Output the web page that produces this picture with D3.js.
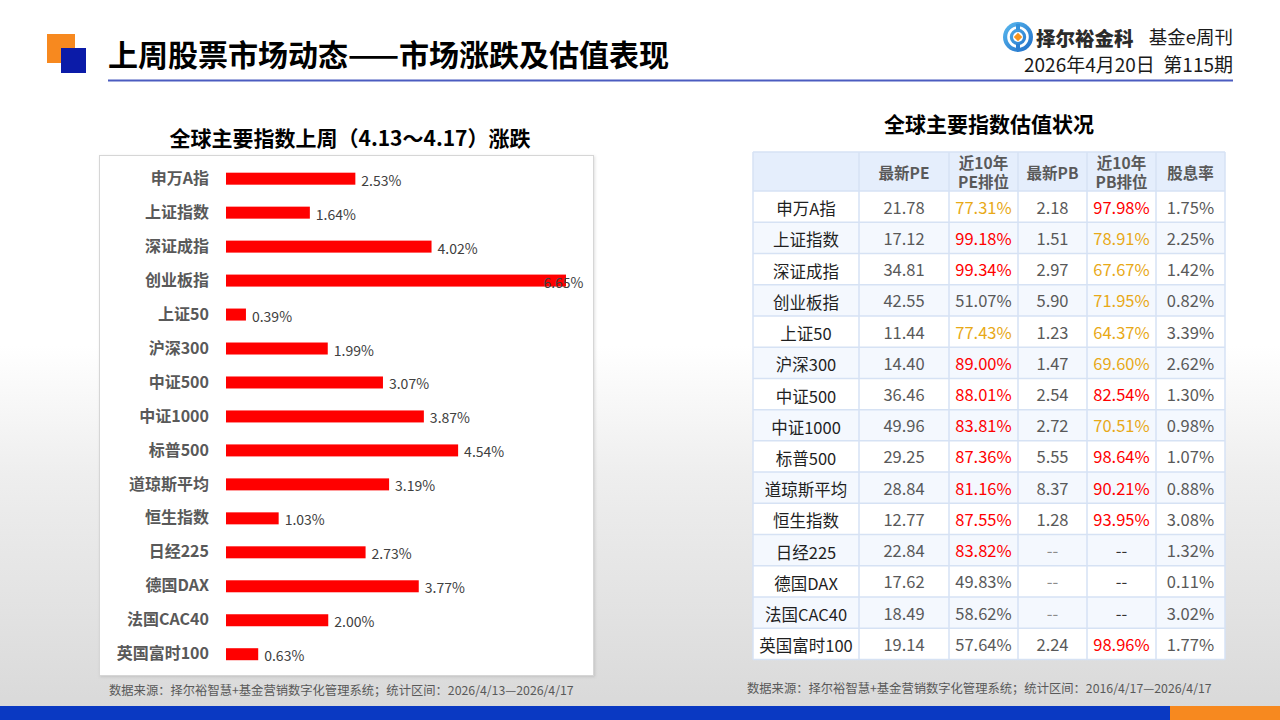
<!DOCTYPE html>
<html>
<head>
<meta charset="utf-8">
<script src="https://cdn.jsdelivr.net/npm/d3@7"></script>
<style>
html, body { margin: 0; padding: 0; background: #fff; }
svg { display: block; font-family: "Microsoft YaHei", "Noto Sans CJK SC", "Noto Sans", sans-serif; }
</style>
</head>
<body>
<svg id="chart" width="1280" height="720"></svg>
<script>
// ---- data ----
const indexNames = ["申万A指", "上证指数", "深证成指", "创业板指", "上证50", "沪深300", "中证500", "中证1000",
    "标普500", "道琼斯平均", "恒生指数", "日经225", "德国DAX", "法国CAC40", "英国富时100"];
const weeklyChange = [2.53, 1.64, 4.02, 6.65, 0.39, 1.99, 3.07, 3.87, 4.54, 3.19, 1.03, 2.73, 3.77, 2.00, 0.63];

const peLatest = [21.78, 17.12, 34.81, 42.55, 11.44, 14.40, 36.46, 49.96, 29.25, 28.84, 12.77, 22.84, 17.62, 18.49, 19.14];
const peRank10y = [77.31, 99.18, 99.34, 51.07, 77.43, 89.00, 88.01, 83.81, 87.36, 81.16, 87.55, 83.82, 49.83, 58.62, 57.64];
const pbLatest = [2.18, 1.51, 2.97, 5.90, 1.23, 1.47, 2.54, 2.72, 5.55, 8.37, 1.28, null, null, null, 2.24];
const pbRank10y = [97.98, 78.91, 67.67, 71.95, 64.37, 69.60, 82.54, 70.51, 98.64, 90.21, 93.95, null, null, null, 98.96];
const dividendYield = [1.75, 2.25, 1.42, 0.82, 3.39, 2.62, 1.30, 0.98, 1.07, 0.88, 3.08, 1.32, 0.11, 3.02, 1.77];

const tableHeaders = ["", "最新PE", "近10年\nPE排位", "最新PB", "近10年\nPB排位", "股息率"];

const pageTitle = "上周股票市场动态——市场涨跌及估值表现";
const barTitle = "全球主要指数上周（4.13～4.17）涨跌";
const tableTitle = "全球主要指数估值状况";
const barSource = "数据来源：择尔裕智慧+基金营销数字化管理系统；统计区间：2026/4/13—2026/4/17";
const tableSource = "数据来源：择尔裕智慧+基金营销数字化管理系统；统计区间：2016/4/17—2026/4/17";

const svg = d3.select("#chart");
const defs = svg.append("defs");

// background: white top fading into a pale grey city haze
let bg = defs.append("linearGradient").attr("id", "bgGrad")
    .attr("x1", 0).attr("y1", 0).attr("x2", 0).attr("y2", 1);
bg.append("stop").attr("offset", "0%").attr("stop-color", "#ffffff");
bg.append("stop").attr("offset", "48%").attr("stop-color", "#ffffff");
bg.append("stop").attr("offset", "66%").attr("stop-color", "#eeeeee");
bg.append("stop").attr("offset", "85%").attr("stop-color", "#e2e2e2");
bg.append("stop").attr("offset", "100%").attr("stop-color", "#d8d8d8");
svg.append("rect").attr("width", 1280).attr("height", 720).attr("fill", "url(#bgGrad)");

let shadow = defs.append("filter").attr("id", "boxShadow")
    .attr("x", "-5%").attr("y", "-5%").attr("width", "110%").attr("height", "110%");
shadow.append("feDropShadow").attr("dx", 1).attr("dy", 1).attr("stdDeviation", 1.5)
    .attr("flood-color", "#000").attr("flood-opacity", 0.12);

// ---- header ----
svg.append("rect").attr("x", 47).attr("y", 34).attr("width", 28).attr("height", 29).attr("fill", "#F7891F");
svg.append("rect").attr("x", 61).attr("y", 48).attr("width", 25).attr("height", 25).attr("fill", "#0B1BA8");

svg.append("text")
    .attr("x", 108).attr("y", 53)
    .attr("dominant-baseline", "central")
    .style("font-size", "30px").style("font-weight", "bold").attr("fill", "#000")
    .text(pageTitle);

svg.append("line")
    .attr("x1", 108).attr("x2", 1233).attr("y1", 80.5).attr("y2", 80.5)
    .attr("stroke", "#4B5CC0").attr("stroke-width", 2);

// logo
let lg = defs.append("linearGradient").attr("id", "logoGrad")
    .attr("x1", 0).attr("y1", 0).attr("x2", 1).attr("y2", 1);
lg.append("stop").attr("offset", "0%").attr("stop-color", "#5BBBF0");
lg.append("stop").attr("offset", "100%").attr("stop-color", "#1D6BC6");
let logo = svg.append("g").attr("transform", "translate(1018,37)");
logo.append("circle").attr("r", 15).attr("fill", "url(#logoGrad)");
logo.append("circle").attr("r", 9.5).attr("fill", "none").attr("stroke", "#fff").attr("stroke-width", 2.6);
logo.append("rect").attr("x", -2).attr("y", -13).attr("width", 4).attr("height", 6).attr("fill", "#3592dc");
logo.append("rect").attr("x", -2).attr("y", 7).attr("width", 4).attr("height", 6).attr("fill", "#2a7fd2");
logo.append("circle").attr("r", 5).attr("fill", "#fff");
logo.append("rect").attr("x", -3).attr("y", -3).attr("width", 6).attr("height", 6)
    .attr("transform", "rotate(45)").attr("fill", "#F7941D");

svg.append("text")
    .attr("x", 1036).attr("y", 37).attr("dominant-baseline", "central")
    .style("font-size", "19.5px").style("font-weight", "900").attr("fill", "#2b2b2b")
    .text("择尔裕金科");
svg.append("text")
    .attr("x", 1233).attr("y", 36).attr("text-anchor", "end").attr("dominant-baseline", "central")
    .style("font-size", "18.5px").attr("fill", "#1a1a1a")
    .text("基金e周刊");
svg.append("text")
    .attr("x", 1233).attr("y", 63).attr("text-anchor", "end").attr("dominant-baseline", "central")
    .style("font-size", "19px").attr("fill", "#1a1a1a")
    .attr("xml:space", "preserve")
    .text("2026年4月20日  第115期");

// ---- left: bar chart ----
svg.append("text")
    .attr("x", 350).attr("y", 137).attr("text-anchor", "middle").attr("dominant-baseline", "central")
    .style("font-size", "21px").style("font-weight", "bold").attr("fill", "#000")
    .text(barTitle);

const box = {x: 99.5, y: 155.5, w: 494, h: 520};
svg.append("rect")
    .attr("x", box.x).attr("y", box.y).attr("width", box.w).attr("height", box.h)
    .attr("fill", "#fff").attr("stroke", "#d6d6d6").attr("filter", "url(#boxShadow)");

const x = d3.scaleLinear().domain([0, d3.max(weeklyChange)]).range([226, 566]);
const y = d3.scaleBand().domain(indexNames).range([161.7, 671.2]);
const barH = 12;

let bars = svg.append("g");
bars.selectAll("rect")
    .data(indexNames)
    .join("rect")
    .attr("x", x(0))
    .attr("y", (d) => y(d) + y.bandwidth() / 2 - barH / 2)
    .attr("width", (d, i) => x(weeklyChange[i]) - x(0))
    .attr("height", barH)
    .attr("fill", "#FF0000");

const labelRight = box.x + box.w - 10;
bars.selectAll("text")
    .data(indexNames)
    .join("text")
    .attr("x", (d, i) => x(weeklyChange[i]) + 6)
    .attr("y", (d) => y(d) + y.bandwidth() / 2 + 1)
    .attr("dominant-baseline", "central")
    .style("font-size", "14px")
    .attr("fill", "#404040")
    .text((d, i) => weeklyChange[i].toFixed(2) + "%")
    .each(function () {
        // keep labels inside the frame, the way the long bar's label sits on its end
        let self = d3.select(this),
            w = self.node().getComputedTextLength(),
            lx = +self.attr("x");
        if (lx + w > labelRight) self.attr("x", labelRight - w);
    });

let yAxis = svg.append("g")
    .attr("transform", "translate(" + x(0) + ",0)")
    .call(d3.axisLeft(y).tickSize(0).tickPadding(17));
yAxis.select(".domain").remove();
yAxis.selectAll("text")
    .style("font-family", "\"Microsoft YaHei\", \"Noto Sans CJK SC\", sans-serif")
    .style("font-size", "16px").style("font-weight", "bold").attr("fill", "#595959");

svg.append("text")
    .attr("x", 109).attr("y", 690).attr("dominant-baseline", "central")
    .style("font-size", "12.3px").attr("fill", "#595959")
    .text(barSource);

// ---- right: valuation table ----
svg.append("text")
    .attr("x", 989).attr("y", 123).attr("text-anchor", "middle").attr("dominant-baseline", "central")
    .style("font-size", "21px").style("font-weight", "bold").attr("fill", "#000")
    .text(tableTitle);

const colEdges = [753, 859, 949, 1018, 1087, 1156, 1225];
const headTop = 152, headBottom = 191, tableBottom = 659.5;
const rowY = d3.scaleBand().domain(indexNames).range([headBottom, tableBottom]);
const rankColor = d3.scaleThreshold().domain([60, 80]).range(["#595959", "#E8A917", "#FF0000"]);
const gridColor = "#D6E2F4";

let table = svg.append("g");
table.append("rect")
    .attr("x", colEdges[0]).attr("y", headTop)
    .attr("width", colEdges[6] - colEdges[0]).attr("height", headBottom - headTop)
    .attr("fill", "#E5EEFC");
table.selectAll("rect.row")
    .data(indexNames)
    .join("rect")
    .attr("class", "row")
    .attr("x", colEdges[0]).attr("y", (d) => rowY(d))
    .attr("width", colEdges[6] - colEdges[0]).attr("height", rowY.bandwidth())
    .attr("fill", (d, i) => i % 2 ? "#F4F8FE" : "#FFFFFF");

// grid
let hLines = [headTop, headBottom].concat(indexNames.map((d) => rowY(d) + rowY.bandwidth()));
table.selectAll("line.h")
    .data(hLines)
    .join("line")
    .attr("class", "h")
    .attr("x1", colEdges[0]).attr("x2", colEdges[6])
    .attr("y1", (d) => d).attr("y2", (d) => d)
    .attr("stroke", gridColor).attr("stroke-width", 1.5);
table.selectAll("line.v")
    .data(colEdges)
    .join("line")
    .attr("class", "v")
    .attr("x1", (d) => d).attr("x2", (d) => d)
    .attr("y1", headTop).attr("y2", tableBottom)
    .attr("stroke", gridColor).attr("stroke-width", 1.5);

// header text
const colCenter = (j) => (colEdges[j] + colEdges[j + 1]) / 2;
tableHeaders.forEach(function (h, j) {
    let lines = h.split("\n");
    let t = table.append("text")
        .attr("text-anchor", "middle")
        .style("font-size", "15.5px").style("font-weight", "bold").attr("fill", "#595959");
    lines.forEach(function (ln, k) {
        t.append("tspan")
            .attr("x", colCenter(j))
            .attr("y", (headTop + headBottom) / 2 + (k - (lines.length - 1) / 2) * 18.5)
            .attr("dominant-baseline", "central")
            .text(ln);
    });
});

// body cells
const fmtNum = (v) => v == null ? "--" : v.toFixed(2);
const fmtPct = (v) => v == null ? "--" : v.toFixed(2) + "%";
const columns = [
    {values: indexNames, text: (v) => v, color: () => "#1f1f1f"},
    {values: peLatest, text: fmtNum, color: () => "#595959"},
    {values: peRank10y, text: fmtPct, color: (v) => rankColor(v)},
    {values: pbLatest, text: fmtNum, color: (v) => v == null ? "#8c8c8c" : "#595959"},
    {values: pbRank10y, text: fmtPct, color: (v) => v == null ? "#333333" : rankColor(v)},
    {values: dividendYield, text: fmtPct, color: () => "#595959"}
];
columns.forEach(function (col, j) {
    table.append("g").selectAll("text")
        .data(col.values)
        .join("text")
        .attr("x", colCenter(j))
        .attr("y", (d, i) => rowY(indexNames[i]) + rowY.bandwidth() / 2 + (j === 0 ? 1.5 : 0))
        .attr("text-anchor", "middle")
        .attr("dominant-baseline", "central")
        .style("font-size", "16.5px")
        .attr("fill", (d) => col.color(d))
        .text((d) => col.text(d));
});

svg.append("text")
    .attr("x", 747).attr("y", 688).attr("dominant-baseline", "central")
    .style("font-size", "12.3px").attr("fill", "#595959")
    .text(tableSource);

// ---- bottom band ----
svg.append("rect").attr("x", 0).attr("y", 706).attr("width", 1170).attr("height", 14).attr("fill", "#0A39C2");
svg.append("rect").attr("x", 1170).attr("y", 706).attr("width", 110).attr("height", 14).attr("fill", "#F7891F");
</script>
</body>
</html>
